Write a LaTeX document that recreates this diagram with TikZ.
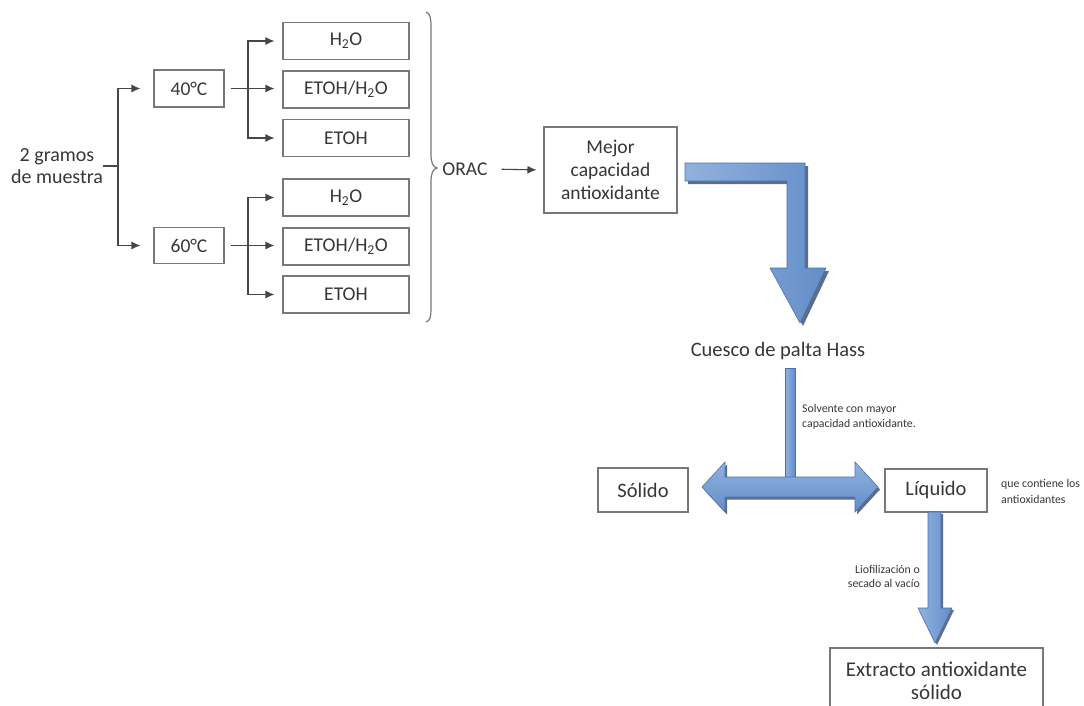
\documentclass[tikz,border=0pt]{standalone}
\usepackage{fontspec}
\setmainfont{Carlito}
\usetikzlibrary{arrows.meta,calc}
\definecolor{txt}{RGB}{55,55,55}
\definecolor{boxgray}{RGB}{120,120,120}
\definecolor{linegray}{RGB}{70,70,70}
\definecolor{bluefill}{RGB}{100,142,200}
\definecolor{bluelight}{RGB}{145,178,222}
\definecolor{bluedark}{RGB}{72,114,175}
\definecolor{blueshadow}{RGB}{38,62,100}
\newcommand{\fs}[2]{\fontsize{#1}{#2}\selectfont}
\begin{document}
\begin{tikzpicture}[x=1pt,y=-1pt,
  box/.style={draw=boxgray, line width=1.1pt, fill=white, inner sep=0pt, text=txt, align=center},
  lbl/.style={text=txt, inner sep=0pt, align=center},
  con/.style={draw=linegray, line width=1.1pt, -{Latex[length=9pt,width=8pt]}},
  plain/.style={draw=linegray, line width=1.1pt},
  blockarrow/.style={draw=bluedark, line width=0.6pt, left color=bluelight, right color=bluefill},
  blockshadow/.style={fill=blueshadow, opacity=0.75}]
\useasboundingbox (0,0) rectangle (1084,705);
\fill[white] (0,0) rectangle (1084,705);

% left part
\node[lbl, font=\fs{20}{22}] (muestra) at (57,166) {2 gramos\\de muestra};
\node[box, font=\fs{19.5}{21}, minimum width=70, minimum height=37] (t40) at (189,88.5) {40°C};
\node[box, font=\fs{19.5}{21}, minimum width=70, minimum height=36] (t60) at (189,245.5) {60°C};

\foreach \n/\y/\t in {s1/41/{H\textsubscript{2}O}, s2/89.5/{ETOH/H\textsubscript{2}O}, s3/138/{ETOH},
                      s4/197.5/{H\textsubscript{2}O}, s5/246.5/{ETOH/H\textsubscript{2}O}, s6/294.5/{ETOH}}
  \node[box, font=\fs{19.5}{21}, minimum width=126, minimum height=37] (\n) at (346,\y) {\t};

\coordinate (j1) at (118,166);
\coordinate (j2) at (248,88.5);
\coordinate (j3) at (248,245.5);
\draw[plain] (muestra.east) -- (j1);
\draw[con, shorten >=13pt] (j1) |- (t40.west);
\draw[con, shorten >=13pt] (j1) |- (t60.west);
\draw[plain, shorten <=6pt] (t40.east) -- (j2);
\draw[plain, shorten <=6pt] (t60.east) -- (j3);
\draw[con, shorten >=8pt] (j2) |- (s1.west);
\draw[con, shorten >=8pt] (j2) -- (j2 -| s2.west);
\draw[con, shorten >=8pt] (j2) |- (s3.west);
\draw[con, shorten >=8pt] (j3) |- (s4.west);
\draw[con, shorten >=8pt] (j3) -- (j3 -| s5.west);
\draw[con, shorten >=8pt] (j3) |- (s6.west);

% brace
\draw[boxgray, line width=1.2pt] (426,12) .. controls (430,13) and (431,18) .. (431,26)
  -- (431,154) .. controls (431,163) and (433,167) .. (437,168)
  .. controls (433,169) and (431,173) .. (431,182)
  -- (431,308) .. controls (431,317) and (430,321) .. (426,322);

\node[lbl, font=\fs{19.5}{21}] (orac) at (465,169) {ORAC};
\node[box, font=\fs{19.5}{23}, minimum width=133, minimum height=86] (mejor) at (610.5,170) {Mejor\\capacidad\\antioxidante};
\draw[con, shorten <=14pt, shorten >=7pt] (orac.east) -- (mejor.west);

% bent block arrow
\begin{scope}[shift={(3,3)}]
\fill[blockshadow] (685,163) -- (805,163) -- (805,268) -- (826,268) -- (800,323) -- (770,268) -- (787,268) -- (787,181) -- (685,181) -- cycle;
\end{scope}
\path[blockarrow] (685,163) -- (805,163) -- (805,268) -- (826,268) -- (800,323) -- (770,268) -- (787,268) -- (787,181) -- (685,181) -- cycle;

\node[lbl, font=\fs{20.5}{24}] (cuesco) at (778,351) {Cuesco de palta Hass};

% T-shaped block arrow
\node[box, font=\fs{20.5}{22}, minimum width=90, minimum height=44] (solido) at (643,490) {Sólido};
\node[box, font=\fs{20.5}{22}, minimum width=102, minimum height=43] (liquido) at (936,490.5) {Líquido};
\path[blockarrow] (785,368) rectangle (795,478);
\begin{scope}[shift={(2,2.5)}]
\fill[blockshadow] (702,487) -- (725,462) -- (725,477) -- (855,477) -- (855,462) -- (878,487) -- (855,512) -- (855,497) -- (725,497) -- (725,512) -- cycle;
\end{scope}
\path[blockarrow, top color=bluelight, bottom color=bluefill] (702,487) -- (725,462) -- (725,477) -- (855,477) -- (855,462) -- (878,487) -- (855,512) -- (855,497) -- (725,497) -- (725,512) -- cycle;

\node[lbl, font=\fs{11.8}{15}, anchor=west, align=left] (solv) at (802,417) {Solvente con mayor\\capacidad antioxidante.};
\node[lbl, font=\fs{11.8}{16}, anchor=west, align=left] (quecont) at (1001,491) {que contiene los\\antioxidantes};

% lower block arrow
\begin{scope}[shift={(2,2)}]
\fill[blockshadow] (928,512) -- (941,512) -- (941,608) -- (952,608) -- (935,643) -- (918,608) -- (928,608) -- cycle;
\end{scope}
\path[blockarrow] (928,512) -- (941,512) -- (941,608) -- (952,608) -- (935,643) -- (918,608) -- (928,608) -- cycle;
\node[lbl, font=\fs{11.8}{14}, anchor=east, align=right] (liof) at (920,576) {Liofilización o\\secado al vacío};

\node[box, font=\fs{21}{23}, minimum width=213, minimum height=66] (extracto) at (936.5,681) {Extracto antioxidante\\sólido};
\end{tikzpicture}
\end{document}
